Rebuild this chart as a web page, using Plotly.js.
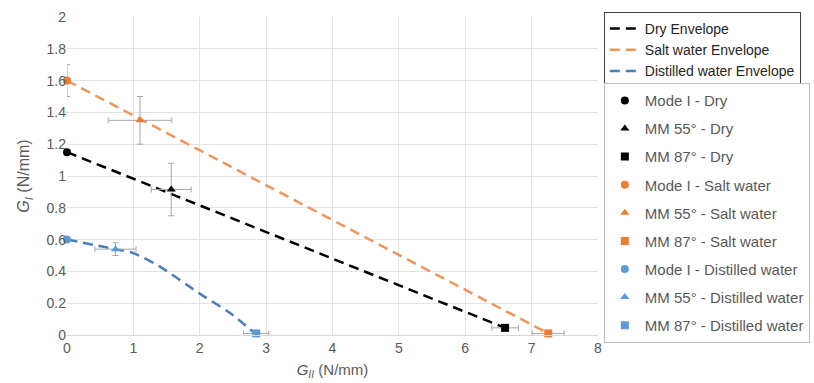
<!DOCTYPE html>
<html><head><meta charset="utf-8">
<script src="https://cdn.plot.ly/plotly-3.0.1.min.js"></script>
<style>html,body{margin:0;padding:0;background:#fff}#chart{width:814px;height:383px}</style>
</head><body><div id="chart"></div>
<script>
// Envelopes
const dryEnvX = [0, 6.6];
const dryEnvY = [1.15, 0.045];
const saltEnvX = [0, 7.25];
const saltEnvY = [1.6, 0.01];
const distEnvX = [0, 0.73, 1.0, 1.4, 2.0, 2.45, 2.83];
const distEnvY = [0.6, 0.54, 0.515, 0.43, 0.26, 0.14, 0.01];

// Data points: [Mode I, MM 55°, MM 87°]
const dryX = [0, 1.57, 6.6];
const dryY = [1.15, 0.915, 0.045];
const dryEx = [0, 0.3, 0.2];
const dryEy = [0, 0.165, 0];
const saltX = [0, 1.1, 7.25];
const saltY = [1.6, 1.35, 0.01];
const saltEx = [0, 0.48, 0.24];
const saltEy = [0.1, 0.15, 0];
const distX = [0, 0.73, 2.85];
const distY = [0.6, 0.54, 0.01];
const distEx = [0, 0.31, 0.19];
const distEy = [0, 0.04, 0];

const modeNames = ['Mode I', 'MM 55°', 'MM 87°'];
const symbols = ['circle', 'triangle-up', 'square'];

const cBlack = '#000000', cOrange = '#ED7D31', cBlue = '#5B9BD5';
const errColor = '#A6A6A6';

const traces = [];
let g = 0;
function env(x, y, name, color, shape) {
  traces.push({x: x, y: y, name: name, type: 'scatter', mode: 'lines',
    line: {color: color, width: 2.5, dash: '10px,6px', shape: shape, smoothing: 0.8},
    legend: 'legend', legendgroup: 'e' + (g++), hoverinfo: 'skip'});
}
env(dryEnvX, dryEnvY, 'Dry Envelope', cBlack, 'linear');
env(saltEnvX, saltEnvY, 'Salt water Envelope', '#F0955A', 'linear');
env(distEnvX, distEnvY, 'Distilled water Envelope', '#4A7EBB', 'spline');

function pts(X, Y, EX, EY, cond, color) {
  for (let i = 0; i < 3; i++) {
    traces.push({x: [X[i]], y: [Y[i]], name: modeNames[i] + ' - ' + cond,
      type: 'scatter', mode: 'markers',
      marker: {symbol: symbols[i], size: 8, color: color},
      error_x: {type: 'data', array: [EX[i]], visible: EX[i] > 0, color: errColor, thickness: 1, width: 3},
      error_y: {type: 'data', array: [EY[i]], visible: EY[i] > 0, color: errColor, thickness: 1, width: 3},
      legend: 'legend2', legendgroup: 'p' + (g++), cliponaxis: false});
  }
}
pts(dryX, dryY, dryEx, dryEy, 'Dry', cBlack);
pts(saltX, saltY, saltEx, saltEy, 'Salt water', cOrange);
pts(distX, distY, distEx, distEy, 'Distilled water', cBlue);

const font = {family: 'Liberation Sans, Arial, sans-serif', size: 14, color: '#595959'};
const layout = {
  width: 814, height: 383,
  margin: {l: 67, r: 216, t: 17, b: 48, autoexpand: false},
  paper_bgcolor: '#fff', plot_bgcolor: '#fff',
  font: font,
  showlegend: true,
  xaxis: {range: [0, 8], dtick: 1, showgrid: true, gridcolor: '#E3E3E3', zeroline: false,
    showline: true, linecolor: '#D9D9D9', ticks: '', tickfont: {size: 14, color: '#595959'},
    title: {text: '<i>G</i><sub><i>II</i></sub> (N/mm)', font: {size: 15, color: '#595959'}, standoff: 9}},
  yaxis: {range: [0, 2], dtick: 0.2, showgrid: true, gridcolor: '#E3E3E3', zeroline: false,
    showline: false, ticks: '', tickfont: {size: 14, color: '#595959'},
    title: {text: '<i>G</i><sub><i>I</i></sub> (N/mm)', font: {size: 16, color: '#595959'}, standoff: 12}},
  legend: {x: 1.011, y: 1.016, xanchor: 'left', yanchor: 'top', bgcolor: '#fff',
    bordercolor: '#404040', borderwidth: 1, font: {size: 14, color: '#262626'},
    tracegroupgap: 0, itemwidth: 30},
  legend2: {x: 1.011, y: 0.792, xanchor: 'left', yanchor: 'top', bgcolor: '#fff',
    bordercolor: '#BFBFBF', borderwidth: 1, font: {size: 15, color: '#595959'},
    tracegroupgap: 5.6, itemwidth: 30}
};
Plotly.newPlot('chart', traces, layout, {displayModeBar: false, staticPlot: true});
</script></body></html>
